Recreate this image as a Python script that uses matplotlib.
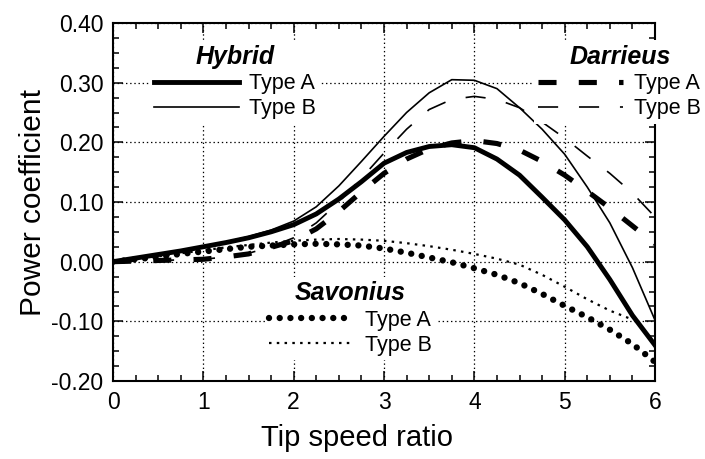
import numpy as np
import matplotlib
matplotlib.use('Agg')
import matplotlib.pyplot as plt
from matplotlib.ticker import MultipleLocator

# Tip speed ratio samples shared by all rotor curves
tsr = [0.0, 0.25, 0.5, 0.75, 1.0, 1.25, 1.5, 1.75, 2.0, 2.25, 2.5, 2.75, 3.0,
       3.25, 3.5, 3.75, 4.0, 4.25, 4.5, 4.75, 5.0, 5.25, 5.5, 5.75, 6.0]

# Power coefficient of each rotor
hybrid_a = [0.0, 0.006, 0.012, 0.018, 0.025, 0.032, 0.040, 0.050, 0.062, 0.080, 0.105, 0.134, 0.165,
            0.183, 0.193, 0.196, 0.191, 0.172, 0.145, 0.108, 0.070, 0.025, -0.030, -0.090, -0.140]
hybrid_b = [0.0, 0.006, 0.012, 0.018, 0.025, 0.033, 0.042, 0.053, 0.068, 0.092, 0.127, 0.168, 0.210,
            0.250, 0.283, 0.305, 0.304, 0.290, 0.258, 0.222, 0.180, 0.125, 0.065, -0.010, -0.098]
darrieus_a = [0.0, 0.001, 0.002, 0.003, 0.004, 0.008, 0.013, 0.024, 0.035, 0.055, 0.084, 0.117, 0.148,
              0.172, 0.189, 0.199, 0.203, 0.198, 0.187, 0.168, 0.145, 0.118, 0.090, 0.060, 0.030]
darrieus_b = [0.0, 0.001, 0.002, 0.003, 0.004, 0.008, 0.014, 0.025, 0.040, 0.065, 0.100, 0.140, 0.182,
              0.222, 0.255, 0.272, 0.277, 0.272, 0.258, 0.234, 0.207, 0.177, 0.148, 0.115, 0.075]
savonius_a = [0.0, 0.004, 0.008, 0.013, 0.017, 0.021, 0.025, 0.027, 0.029, 0.030, 0.029, 0.027, 0.022,
              0.015, 0.007, -0.001, -0.011, -0.022, -0.036, -0.054, -0.074, -0.093, -0.114, -0.138, -0.168]
savonius_b = [0.0, 0.004, 0.009, 0.014, 0.019, 0.024, 0.028, 0.032, 0.035, 0.037, 0.038, 0.037, 0.035,
              0.031, 0.026, 0.020, 0.013, 0.005, -0.005, -0.022, -0.042, -0.063, -0.082, -0.097, np.nan]

x_ticks = [0, 1, 2, 3, 4, 5, 6]
y_ticks = [-0.2, -0.1, 0.0, 0.1, 0.2, 0.3, 0.4]
y_tick_labels = ['-0.20', '-0.10', '0.00', '0.10', '0.20', '0.30', '0.40']

plt.rcParams['font.family'] = ['Liberation Sans', 'DejaVu Sans']
plt.rcParams['axes.unicode_minus'] = False
plt.rcParams['lines.scale_dashes'] = False

fig = plt.figure(figsize=(7.05, 4.59), dpi=100)
ax = fig.add_axes([0.1603, 0.1699, 0.7688, 0.7800])

# hybrid: solid lines
ha, = ax.plot(tsr, hybrid_a, color='black', lw=3.5, label='Type A')
hb, = ax.plot(tsr, hybrid_b, color='black', lw=1.2, label='Type B')
# darrieus: dashed lines
da, = ax.plot(tsr, darrieus_a, color='black', lw=3.7, linestyle=(0, (13, 16)), label='Type A')
db, = ax.plot(tsr, darrieus_b, color='black', lw=1.2, linestyle=(0, (14.5, 15)), label='Type B')
# savonius: dotted lines
sa, = ax.plot(tsr, savonius_a, color='black', lw=4.6, linestyle=(0, (0.01, 7.7)),
              dash_capstyle='round', label='Type A')
sb, = ax.plot(tsr, savonius_b, color='black', lw=1.6, linestyle=(0, (1.8, 3.8)), label='Type B')

ax.set_xlim(0, 6)
ax.set_ylim(-0.2, 0.4)
ax.set_xticks(x_ticks)
ax.set_yticks(y_ticks)
ax.set_yticklabels(y_tick_labels)
ax.xaxis.set_minor_locator(MultipleLocator(0.25))
ax.yaxis.set_minor_locator(MultipleLocator(0.025))
ax.tick_params(which='both', direction='in', top=True, right=True, width=1.1)
ax.tick_params(which='major', length=7, labelsize=16.5, pad=7)
ax.tick_params(which='minor', length=4)
ax.grid(True, which='major', color='black', linestyle=(0, (1, 2)), linewidth=0.9)
for s in ax.spines.values():
    s.set_linewidth(1.5)

ax.set_xlabel('Tip speed ratio', fontsize=21, labelpad=11)
ax.xaxis.set_label_coords(0.45, -0.12)
ax.xaxis.label.set_verticalalignment('top')
ax.set_ylabel('Power coefficient', fontsize=21.5, labelpad=3)

# one legend per rotor type
leg_kw = dict(loc='center', bbox_transform=ax.transAxes, fontsize=15.5,
              title_fontproperties={'weight': 'bold', 'style': 'italic', 'size': 18},
              handlelength=3.95, handletextpad=0.5, labelspacing=0.2, borderpad=0.2,
              borderaxespad=0, fancybox=False, edgecolor='none', facecolor='white', framealpha=1)
leg1 = ax.legend(handles=[ha, hb], title='Hybrid', bbox_to_anchor=(0.225, 0.835), **leg_kw)
ax.add_artist(leg1)
leg2 = ax.legend(handles=[da, db], title='Darrieus', bbox_to_anchor=(0.935, 0.835), **leg_kw)
ax.add_artist(leg2)
leg3 = ax.legend(handles=[sa, sb], title='Savonius', bbox_to_anchor=(0.438, 0.174), **leg_kw)

fig.savefig('out.png', dpi=100)
